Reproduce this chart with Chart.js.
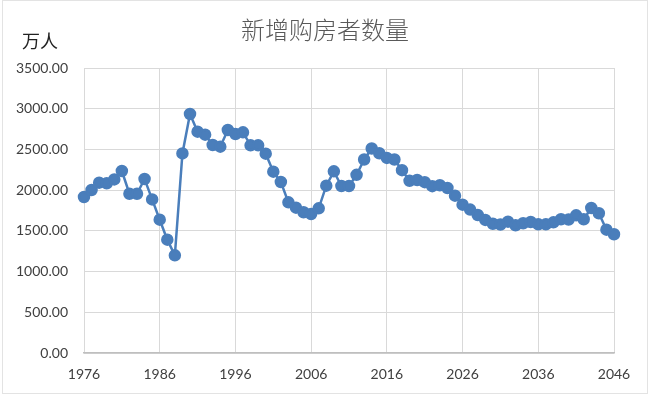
<!DOCTYPE html>
<html>
<head>
<meta charset="utf-8">
<script src="https://cdn.jsdelivr.net/npm/chart.js@4"></script>
<style>
  html, body { margin: 0; padding: 0; background: #fff; }
  #wrap { width: 650px; height: 396px; position: relative; }
</style>
</head>
<body>
<div id="wrap"><canvas id="buyerChart" width="650" height="396"></canvas></div>
<script>
// years 1976 - 2046
const years = [];
for (let y = 1976; y <= 2046; y++) years.push(y);

// new home buyers, 10k people
const buyers = [
  1916, 2002, 2092, 2084, 2132, 2235, 1956, 1956, 2137, 1886,
  1637, 1392, 1199, 2451, 2935, 2718, 2681, 2554, 2534, 2739,
  2690, 2710, 2550, 2550, 2448, 2227, 2100, 1850, 1785, 1728,
  1707, 1777, 2055, 2231, 2051, 2051, 2188, 2376, 2511, 2453,
  2396, 2376, 2245, 2114, 2125, 2098, 2049, 2060, 2026, 1932,
  1822, 1761, 1695, 1634, 1587, 1578, 1613, 1568, 1593, 1609,
  1580, 1580, 1605, 1642, 1638, 1691, 1642, 1781, 1716, 1515,
  1458
];

const xTicks = [1976, 1986, 1996, 2006, 2016, 2026, 2036, 2046];
const chartTitle = '新增购房者数量';
const unitLabel = '万人';

const labelFont = { family: 'Lato, "Noto Sans", sans-serif', size: 14 };

// title, unit and the thin frame drawn by hand
const textPlugin = {
  id: 'texts',
  afterDraw(chart) {
    const ctx = chart.ctx;
    ctx.save();
    ctx.strokeStyle = '#e3e3e3';
    ctx.lineWidth = 1;
    ctx.strokeRect(2.5, 0.5, 645, 393);
    ctx.textBaseline = 'middle';
    ctx.textAlign = 'center';
    ctx.fillStyle = '#595959';
    ctx.font = '300 24px "Noto Sans CJK SC", sans-serif';
    ctx.fillText(chartTitle, 325, 30);
    ctx.fillStyle = '#222';
    ctx.textAlign = 'left';
    ctx.font = '400 18px "Noto Sans CJK SC", sans-serif';
    ctx.fillText(unitLabel, 22, 41);
    ctx.restore();
  }
};

const ctx = document.getElementById('buyerChart').getContext('2d');
new Chart(ctx, {
  type: 'line',
  data: {
    datasets: [{
      data: years.map((y, i) => ({ x: y, y: buyers[i] })),
      borderColor: '#4a7ebb',
      backgroundColor: '#4a7ebb',
      borderWidth: 2.5,
      pointRadius: 5,
      pointHoverRadius: 5,
      tension: 0,
      fill: false,
      clip: false
    }]
  },
  options: {
    responsive: false,
    animation: false,
    layout: { padding: { top: 68, right: 36, left: 0, bottom: 0 } },
    plugins: {
      legend: { display: false },
      tooltip: { enabled: false }
    },
    scales: {
      x: {
        type: 'linear',
        min: 1976,
        max: 2046,
        afterBuildTicks: scale => { scale.ticks = xTicks.map(v => ({ value: v })); },
        afterFit: scale => { scale.height = 43; },
        grid: { color: '#d9d9d9', lineWidth: 1, drawTicks: false },
        border: { color: '#bfbfbf', width: 1.5 },
        ticks: {
          color: '#404040',
          font: labelFont,
          padding: 13,
          maxRotation: 0,
          callback: v => String(v)
        }
      },
      y: {
        min: 0,
        max: 3500,
        afterFit: scale => { scale.width = 84; },
        grid: { color: '#d9d9d9', lineWidth: 1, drawTicks: false },
        border: { display: false },
        ticks: {
          stepSize: 500,
          color: '#404040',
          font: labelFont,
          padding: 16,
          callback: v => v.toFixed(2)
        }
      }
    }
  },
  plugins: [textPlugin]
});
</script>
</body>
</html>
